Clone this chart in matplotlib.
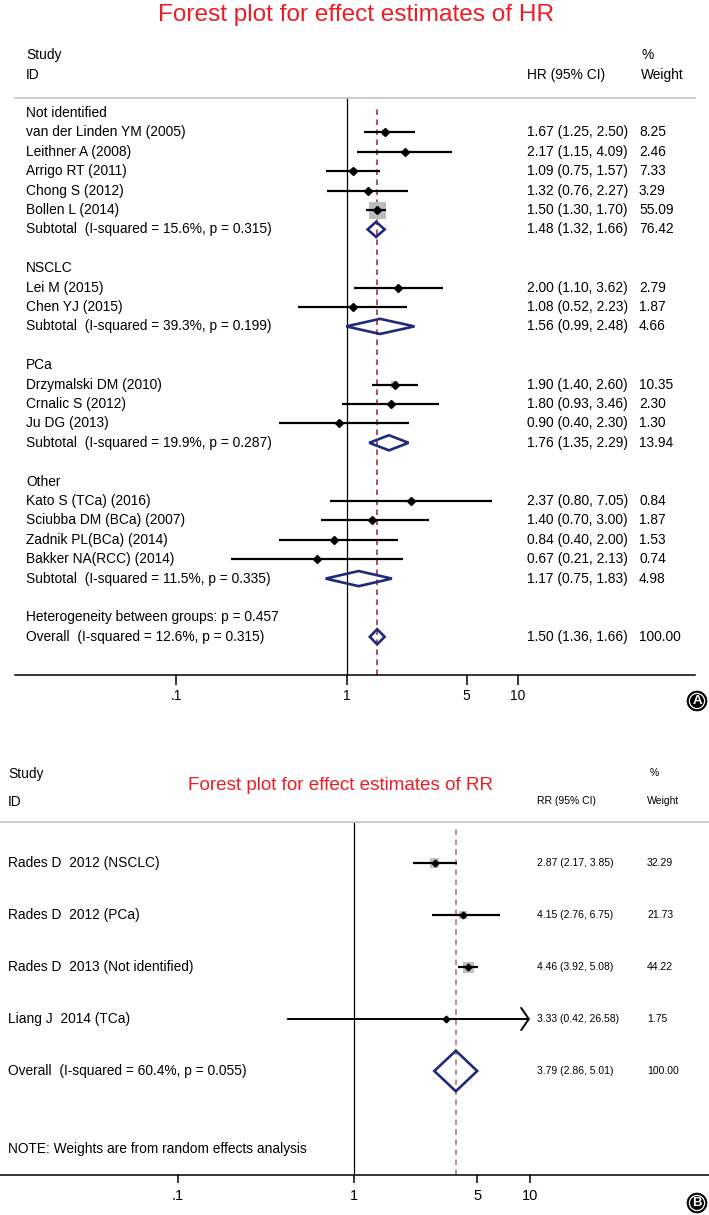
import matplotlib
matplotlib.use("Agg")
import numpy as np
import matplotlib.pyplot as plt
from matplotlib.patches import Polygon
from matplotlib.transforms import blended_transform_factory

plt.rcParams['font.family'] = ['Liberation Sans', 'DejaVu Sans']
plt.rcParams['lines.scale_dashes'] = False

# -------------------------
# Panel A data (HR)
# -------------------------
a_groups = ["Not identified", "NSCLC", "PCa", "Other"]
a_study = ["van der Linden YM (2005)", "Leithner A (2008)", "Arrigo RT (2011)",
           "Chong S (2012)", "Bollen L (2014)",
           "Lei M (2015)", "Chen YJ (2015)",
           "Drzymalski DM (2010)", "Crnalic S (2012)", "Ju DG (2013)",
           "Kato S (TCa) (2016)", "Sciubba DM (BCa) (2007)", "Zadnik PL(BCa) (2014)",
           "Bakker NA(RCC) (2014)"]
a_group_of = [0, 0, 0, 0, 0, 1, 1, 2, 2, 2, 3, 3, 3, 3]
a_hr = [1.67, 2.17, 1.09, 1.32, 1.50, 2.00, 1.08, 1.90, 1.80, 0.90, 2.37, 1.40, 0.84, 0.67]
a_lo = [1.25, 1.15, 0.75, 0.76, 1.30, 1.10, 0.52, 1.40, 0.93, 0.40, 0.80, 0.70, 0.40, 0.21]
a_hi = [2.50, 4.09, 1.57, 2.27, 1.70, 3.62, 2.23, 2.60, 3.46, 2.30, 7.05, 3.00, 2.00, 2.13]
a_wt = [8.25, 2.46, 7.33, 3.29, 55.09, 2.79, 1.87, 10.35, 2.30, 1.30, 0.84, 1.87, 1.53, 0.74]

a_sub_i2 = ["15.6%", "39.3%", "19.9%", "11.5%"]
a_sub_p = ["0.315", "0.199", "0.287", "0.335"]
a_sub_hr = [1.48, 1.56, 1.76, 1.17]
a_sub_lo = [1.32, 0.99, 1.35, 0.75]
a_sub_hi = [1.66, 2.48, 2.29, 1.83]
a_sub_wt = [76.42, 4.66, 13.94, 4.98]

a_het_text = "Heterogeneity between groups: p = 0.457"
a_overall_text = "Overall  (I-squared = 12.6%, p = 0.315)"
a_overall = [1.50, 1.36, 1.66, 100.00]

# -------------------------
# Panel B data (RR)
# -------------------------
b_study = ["Rades D  2012 (NSCLC)", "Rades D  2012 (PCa)",
           "Rades D  2013 (Not identified)", "Liang J  2014 (TCa)"]
b_rr = [2.87, 4.15, 4.46, 3.33]
b_lo = [2.17, 2.76, 3.92, 0.42]
b_hi = [3.85, 6.75, 5.08, 26.58]
b_wt = [32.29, 21.73, 44.22, 1.75]
b_overall_text = "Overall  (I-squared = 60.4%, p = 0.055)"
b_overall = [3.79, 2.86, 5.01, 100.00]

tick_vals = [0.1, 1, 5, 10]
tick_labels = [".1", "1", "5", "10"]

# -------------------------
# Style
# -------------------------
W, H = 709, 1215
RED = '#ee1c25'
NAVY = '#1f2a7c'
GRAY_SQ = '#bdbdbd'
TXT = 9.9


def fx(px):
    return px / W


def fy(py):
    return 1 - py / H


def ci_text(est, lo, hi):
    return f"{est:.2f} ({lo:.2f}, {hi:.2f})"


def diamond(ax, est, lo, hi, y, h):
    pts = [(lo, y), (est, y - h / 2), (hi, y), (est, y + h / 2)]
    ax.add_patch(Polygon(pts, closed=True, fill=False, edgecolor=NAVY,
                         linewidth=1.9, joinstyle='miter', zorder=4))


def setup_axes(ax, left_px, right_px, top_px, bottom_px, one_px, decade_px,
               row0_px, step_px):
    ax.set_xscale('log')
    ax.set_xlim(10 ** ((left_px - one_px) / decade_px),
                10 ** ((right_px - one_px) / decade_px))
    ax.set_ylim((bottom_px - row0_px) / step_px, (top_px - row0_px) / step_px)
    for s in ['left', 'right']:
        ax.spines[s].set_visible(False)
    ax.spines['top'].set_color('#c4c4c4')
    ax.spines['top'].set_linewidth(1.2)
    ax.spines['bottom'].set_linewidth(1.1)
    ax.set_yticks([])
    ax.set_xticks(tick_vals)
    ax.set_xticklabels(tick_labels)
    ax.xaxis.set_minor_locator(matplotlib.ticker.NullLocator())
    ax.axvline(1, color='black', lw=0.9, zorder=1)
    ax.patch.set_alpha(0)


fig = plt.figure(figsize=(W / 100, H / 100), dpi=100)

# =========================
# Panel A
# =========================
A_L, A_R, A_T, A_B = 15, 695, 98, 675
A_ROW0, A_STEP = 113, 19.4
axA = fig.add_axes([fx(A_L), fy(A_B), (A_R - A_L) / W, (A_B - A_T) / H])
setup_axes(axA, A_L, A_R, A_T, A_B, 347, 171, A_ROW0, A_STEP)
axA.tick_params(axis='x', length=7, width=1.1, pad=3, labelsize=10)
trA = blended_transform_factory(fig.transFigure, axA.transData)

fig.text(fx(356), fy(15), "Forest plot for effect estimates of HR", color=RED,
         fontsize=17.6, ha='center', va='center')
fig.text(fx(26), fy(55), "Study", fontsize=TXT, va='center')
fig.text(fx(26), fy(75), "ID", fontsize=TXT, va='center')
fig.text(fx(527), fy(75), "HR (95% CI)", fontsize=TXT, va='center')
fig.text(fx(641), fy(55), "%", fontsize=TXT, va='center')
fig.text(fx(641), fy(75), "Weight", fontsize=TXT, va='center')

a_sq_max = 17.0  # px side of the largest box (weight 55.09)
row = 0
for g, gname in enumerate(a_groups):
    axA.text(fx(26), row, gname, transform=trA, fontsize=TXT, va='center')
    row += 1
    for i in [k for k, gg in enumerate(a_group_of) if gg == g]:
        side_pt = a_sq_max * np.sqrt(a_wt[i] / max(a_wt)) * 0.72
        axA.plot([a_lo[i], a_hi[i]], [row, row], color='black', lw=1.6,
                 solid_capstyle='butt', zorder=3)
        axA.scatter([a_hr[i]], [row], marker='s', s=side_pt ** 2, color=GRAY_SQ,
                    edgecolors='none', zorder=2)
        axA.plot([a_hr[i]], [row], marker='D', ms=3.8, color='black', zorder=5)
        axA.text(fx(26), row, a_study[i], transform=trA, fontsize=TXT, va='center')
        axA.text(fx(527), row, ci_text(a_hr[i], a_lo[i], a_hi[i]), transform=trA,
                 fontsize=TXT, va='center')
        axA.text(fx(639), row, f"{a_wt[i]:.2f}", transform=trA, fontsize=TXT, va='center')
        row += 1
    diamond(axA, a_sub_hr[g], a_sub_lo[g], a_sub_hi[g], row, 0.78)
    axA.text(fx(26), row, f"Subtotal  (I-squared = {a_sub_i2[g]}, p = {a_sub_p[g]})",
             transform=trA, fontsize=TXT, va='center')
    axA.text(fx(527), row, ci_text(a_sub_hr[g], a_sub_lo[g], a_sub_hi[g]),
             transform=trA, fontsize=TXT, va='center')
    axA.text(fx(639), row, f"{a_sub_wt[g]:.2f}", transform=trA, fontsize=TXT, va='center')
    row += 2

axA.text(fx(26), row, a_het_text, transform=trA, fontsize=TXT, va='center')
row += 1
diamond(axA, a_overall[0], a_overall[1], a_overall[2], row, 0.78)
axA.text(fx(26), row, a_overall_text, transform=trA, fontsize=TXT, va='center')
axA.text(fx(527), row, ci_text(*a_overall[:3]), transform=trA, fontsize=TXT, va='center')
axA.text(fx(639), row, f"{a_overall[3]:.2f}", transform=trA, fontsize=TXT, va='center')
axA.axvline(a_overall[0], ymax=0.988, color='#9e1f33', lw=1.1,
            dashes=(4.0, 3.2), zorder=1)

# =========================
# Panel B
# =========================
B_L, B_R, B_T, B_B = 0, 709, 822, 1175
B_ROW0, B_STEP = 863, 52
axB = fig.add_axes([fx(B_L), fy(B_B), (B_R - B_L) / W, (B_B - B_T) / H])
setup_axes(axB, B_L, B_R, B_T, B_B, 354, 176, B_ROW0, B_STEP)
axB.tick_params(axis='x', length=6, width=1.1, pad=4, labelsize=10.5)
trB = blended_transform_factory(fig.transFigure, axB.transData)

SMALL = 7.5
fig.text(fx(341), fy(786), "Forest plot for effect estimates of RR", color=RED,
         fontsize=13.6, ha='center', va='center')
fig.text(fx(8), fy(774), "Study", fontsize=TXT, va='center')
fig.text(fx(8), fy(802), "ID", fontsize=TXT, va='center')
fig.text(fx(537), fy(801), "RR (95% CI)", fontsize=SMALL, va='center')
fig.text(fx(650), fy(773), "%", fontsize=SMALL, va='center')
fig.text(fx(647), fy(801), "Weight", fontsize=SMALL, va='center')

b_sq_max = 11.0  # px side of the largest box (weight 44.22)
x_clip = 10
for j in range(len(b_study)):
    side_pt = b_sq_max * np.sqrt(b_wt[j] / max(b_wt)) * 0.72
    if b_hi[j] > x_clip:
        axB.annotate('', xy=(x_clip, j), xytext=(b_lo[j], j),
                     arrowprops=dict(arrowstyle='->,head_length=0.55,head_width=0.8',
                                     lw=1.4, color='black', shrinkA=0, shrinkB=0),
                     zorder=3)
    else:
        axB.plot([b_lo[j], b_hi[j]], [j, j], color='black', lw=1.6,
                 solid_capstyle='butt', zorder=3)
    axB.scatter([b_rr[j]], [j], marker='s', s=side_pt ** 2, color=GRAY_SQ,
                edgecolors='none', zorder=2)
    axB.plot([b_rr[j]], [j], marker='D', ms=3.4, color='black', zorder=5)
    axB.text(fx(8), j, b_study[j], transform=trB, fontsize=TXT, va='center')
    axB.text(fx(537), j, ci_text(b_rr[j], b_lo[j], b_hi[j]), transform=trB,
             fontsize=SMALL, va='center')
    axB.text(fx(647), j, f"{b_wt[j]:.2f}", transform=trB, fontsize=SMALL, va='center')

jo = len(b_study)
diamond(axB, b_overall[0], b_overall[1], b_overall[2], jo, 0.78)
axB.text(fx(8), jo, b_overall_text, transform=trB, fontsize=TXT, va='center')
axB.text(fx(537), jo, ci_text(*b_overall[:3]), transform=trB, fontsize=SMALL, va='center')
axB.text(fx(647), jo, f"{b_overall[3]:.2f}", transform=trB, fontsize=SMALL, va='center')
axB.text(fx(8), jo + 1.5, "NOTE: Weights are from random effects analysis",
         transform=trB, fontsize=TXT, va='center')
axB.axvline(b_overall[0], ymax=0.99, color='#a86f7a', lw=1.1,
            dashes=(4.0, 3.2), zorder=1)

# -------------------------
# Panel badges
# -------------------------
for letter, ypx in [("A", 701), ("B", 1203)]:
    fig.text(fx(697), fy(ypx), letter, color='black', fontsize=9.5, fontweight='bold',
             ha='center', va='center',
             bbox=dict(boxstyle='circle,pad=0.3', fc='black', ec='black', lw=0.5))
    fig.text(fx(697), fy(ypx), letter, color='white', fontsize=9.5, fontweight='bold',
             ha='center', va='center',
             bbox=dict(boxstyle='circle,pad=0.12', fc='black', ec='white', lw=0.9))

fig.savefig("out.png", dpi=100)
